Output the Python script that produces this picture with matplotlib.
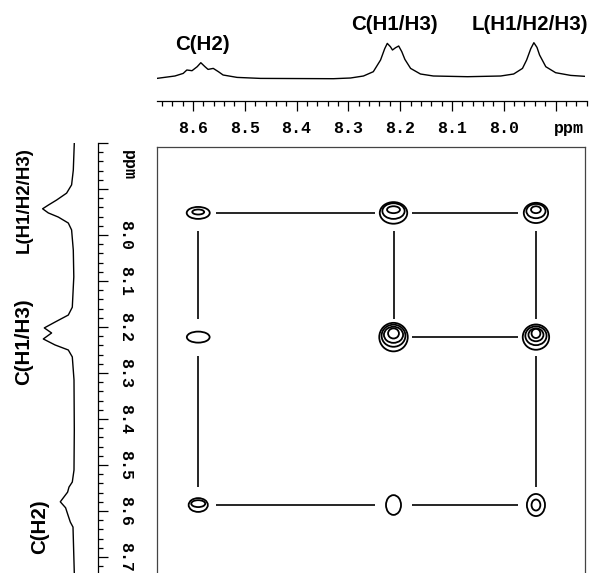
import matplotlib
matplotlib.use("Agg")
import matplotlib.pyplot as plt
from matplotlib.patches import Ellipse
from matplotlib.ticker import FixedLocator, MultipleLocator

# 1D projection along the top (ppm, height above baseline)
top_ppm = [8.670, 8.635, 8.619, 8.612, 8.602, 8.592, 8.585, 8.577, 8.571, 8.561,
           8.551, 8.542, 8.515, 8.470, 8.329, 8.296, 8.271, 8.252, 8.238, 8.230,
           8.225, 8.219, 8.215, 8.209, 8.203, 8.197, 8.191, 8.180, 8.161, 8.136,
           8.070, 8.006, 7.981, 7.964, 7.956, 7.948, 7.942, 7.936, 7.931, 7.919,
           7.900, 7.871, 7.842]
top_int = [0.3, 2.7, 5.3, 8.7, 8.0, 12.0, 16.0, 12.0, 9.3, 10.3,
           7.0, 3.7, 1.3, 0.3, 0.0, 0.7, 2.7, 7.0, 18.7, 30.0,
           35.3, 32.0, 28.7, 31.0, 32.7, 27.0, 19.3, 10.3, 4.7, 2.7,
           2.0, 2.7, 4.7, 10.3, 18.7, 30.0, 36.0, 31.3, 23.7, 12.0,
           6.0, 3.3, 2.3]

# 1D projection along the left side
left_ppm = [7.800, 7.859, 7.891, 7.909, 7.924, 7.935, 7.943, 7.952, 7.961, 7.974,
            7.989, 8.033, 8.091, 8.157, 8.174, 8.189, 8.202, 8.213, 8.226, 8.239,
            8.250, 8.265, 8.315, 8.424, 8.511, 8.537, 8.548, 8.559, 8.580, 8.593,
            8.609, 8.624, 8.635, 8.735]
left_int = [0.0, 1.0, 2.7, 7.7, 17.7, 26.0, 31.7, 26.0, 16.0, 6.0,
            2.7, 1.0, 0.5, 2.0, 6.0, 19.0, 30.0, 22.7, 31.0, 19.3,
            6.0, 2.0, 0.3, 0.0, 0.3, 2.0, 5.3, 6.7, 14.0, 8.7,
            6.3, 4.0, 1.3, 0.0]

top_labels = ["C(H2)", "C(H1/H3)", "L(H1/H2/H3)"]
left_labels = ["L(H1/H2/H3)", "C(H1/H3)", "C(H2)"]

# cross peak grid (ppm)
col_ppm = [8.590, 8.213, 7.938]
row_ppm = [7.952, 8.222, 8.587]
cells = [(0, 0), (1, 0), (2, 0), (0, 1), (1, 1), (2, 1), (0, 2), (1, 2), (2, 2)]
# contour rings per cell: (width ppm, height ppm, vertical shift ppm)
rings = [
    [(0.0445, 0.026, 0.0), (0.023, 0.011, -0.002)],
    [(0.053, 0.047, 0.0), (0.043, 0.034, -0.004), (0.025, 0.015, -0.007)],
    [(0.047, 0.044, 0.0), (0.037, 0.031, -0.004), (0.019, 0.015, -0.007)],
    [(0.044, 0.024, 0.0)],
    [(0.055, 0.062, 0.0), (0.046, 0.048, -0.003), (0.037, 0.035, -0.005), (0.021, 0.022, -0.008)],
    [(0.051, 0.055, 0.0), (0.041, 0.041, -0.003), (0.029, 0.028, -0.005), (0.017, 0.020, -0.008)],
    [(0.037, 0.030, 0.0), (0.027, 0.015, -0.003)],
    [(0.029, 0.043, 0.0)],
    [(0.035, 0.048, 0.0), (0.017, 0.024, 0.0)],
]
links = [((0, 0), (1, 0)), ((1, 0), (2, 0)), ((0, 0), (0, 1)), ((0, 1), (0, 2)),
         ((1, 0), (1, 1)), ((2, 0), (2, 1)), ((2, 1), (2, 2)), ((1, 1), (2, 1)),
         ((0, 2), (1, 2)), ((1, 2), (2, 2))]

W, H = 592, 573
XLIM = (8.6696, 7.8433)
YLIM = (8.7348, 7.8087)
LEFT_YLIM = (8.7348, 7.800)


def box(left, top, right, bottom):
    return [left / W, 1 - bottom / H, (right - left) / W, (bottom - top) / H]


def bare(ax, keep=()):
    for name, spine in ax.spines.items():
        spine.set_visible(name in keep)
    ax.set_xticks([])
    ax.set_yticks([])
    ax.patch.set_alpha(0)


label_font = dict(family=["Liberation Sans", "DejaVu Sans"], weight="bold", size=14.8)
tick_font = dict(family=["Liberation Mono", "DejaVu Sans Mono"], weight="bold", size=12)

fig = plt.figure(figsize=(W / 100, H / 100), dpi=100)

# 2D map
ax = fig.add_axes(box(157, 147, 585, 573))
bare(ax, keep=("left", "top", "right"))
for s in ax.spines.values():
    s.set_linewidth(0.9)
    s.set_color("#444444")
ax.set_xlim(*XLIM)
ax.set_ylim(*YLIM)

gx, gy = 0.035, 0.04
for (c1, r1), (c2, r2) in links:
    x1, x2 = col_ppm[c1], col_ppm[c2]
    y1, y2 = row_ppm[r1], row_ppm[r2]
    if r1 == r2:
        sgn = 1 if x2 > x1 else -1
        ax.plot([x1 + sgn * gx, x2 - sgn * gx], [y1, y2], color="black", lw=1.2,
                solid_capstyle="butt")
    else:
        sgn = 1 if y2 > y1 else -1
        ax.plot([x1, x2], [y1 + sgn * gy, y2 - sgn * gy], color="black", lw=1.2,
                solid_capstyle="butt")

for (c, r), cell_rings in zip(cells, rings):
    for w, h, dy in cell_rings:
        ax.add_patch(Ellipse((col_ppm[c], row_ppm[r] + dy), w, h, fill=False,
                             edgecolor="black", lw=1.3))

# top ruler
axt = fig.add_axes(box(157, 95, 587, 101))
bare(axt, keep=("bottom",))
axt.spines["bottom"].set_linewidth(0.9)
axt.set_xlim(XLIM[0], XLIM[1] - 0.004)
major = [8.6, 8.5, 8.4, 8.3, 8.2, 8.1, 8.0, 7.9]
major_labels = ["8.6", "8.5", "8.4", "8.3", "8.2", "8.1", "8.0", ""]
axt.xaxis.set_major_locator(FixedLocator(major))
axt.set_xticklabels(major_labels, **tick_font)
axt.xaxis.set_minor_locator(MultipleLocator(0.02))
axt.tick_params(axis="x", which="major", direction="out", length=7.2, width=0.9, pad=7)
axt.tick_params(axis="x", which="minor", direction="out", length=3.6, width=0.9)
fig.text(569 / W, 1 - 129 / H, "ppm", ha="center", va="center", **tick_font)

# left ruler
axl = fig.add_axes(box(92, 143, 98, 573))
bare(axl, keep=("right",))
axl.spines["right"].set_linewidth(0.9)
axl.set_ylim(*LEFT_YLIM)
lmajor = [7.8, 7.9, 8.0, 8.1, 8.2, 8.3, 8.4, 8.5, 8.6, 8.7]
lmajor_labels = ["", "", "8.0", "8.1", "8.2", "8.3", "8.4", "8.5", "8.6", "8.7"]
axl.yaxis.tick_right()
axl.yaxis.set_major_locator(FixedLocator(lmajor))
axl.set_yticklabels(lmajor_labels, rotation=-90, va="center", **tick_font)
axl.yaxis.set_minor_locator(MultipleLocator(0.02))
axl.tick_params(axis="y", which="major", direction="out", length=7.2, width=0.9, pad=7)
axl.tick_params(axis="y", which="minor", direction="out", length=3.6, width=0.9)
fig.text(128 / W, 1 - 165 / H, "ppm", ha="center", va="center", rotation=-90, **tick_font)

# top spectrum
axs = fig.add_axes(box(157, 30, 585, 85))
bare(axs)
axs.set_xlim(*XLIM)
axs.set_ylim(-6.3, 48.7)
axs.plot(top_ppm, top_int, color="black", lw=1.0)

# left spectrum
axv = fig.add_axes(box(30, 143, 80, 573))
bare(axv)
axv.set_ylim(*LEFT_YLIM)
axv.set_xlim(44.3, -5.7)
axv.plot(left_int, left_ppm, color="black", lw=1.0)

# peak labels
fig.text(202 / W, 1 - 44 / H, top_labels[0], ha="center", va="center", **label_font)
fig.text(394 / W, 1 - 24 / H, top_labels[1], ha="center", va="center", **label_font)
fig.text(530 / W, 1 - 24 / H, top_labels[2], ha="center", va="center", **label_font)
fig.text(24 / W, 1 - 200 / H, left_labels[0], ha="center", va="center", rotation=90,
         **dict(label_font, size=13.5))
fig.text(24 / W, 1 - 342 / H, left_labels[1], ha="center", va="center", rotation=90, **label_font)
fig.text(40 / W, 1 - 527 / H, left_labels[2], ha="center", va="center", rotation=90, **label_font)

fig.savefig("out.png", dpi=100)
